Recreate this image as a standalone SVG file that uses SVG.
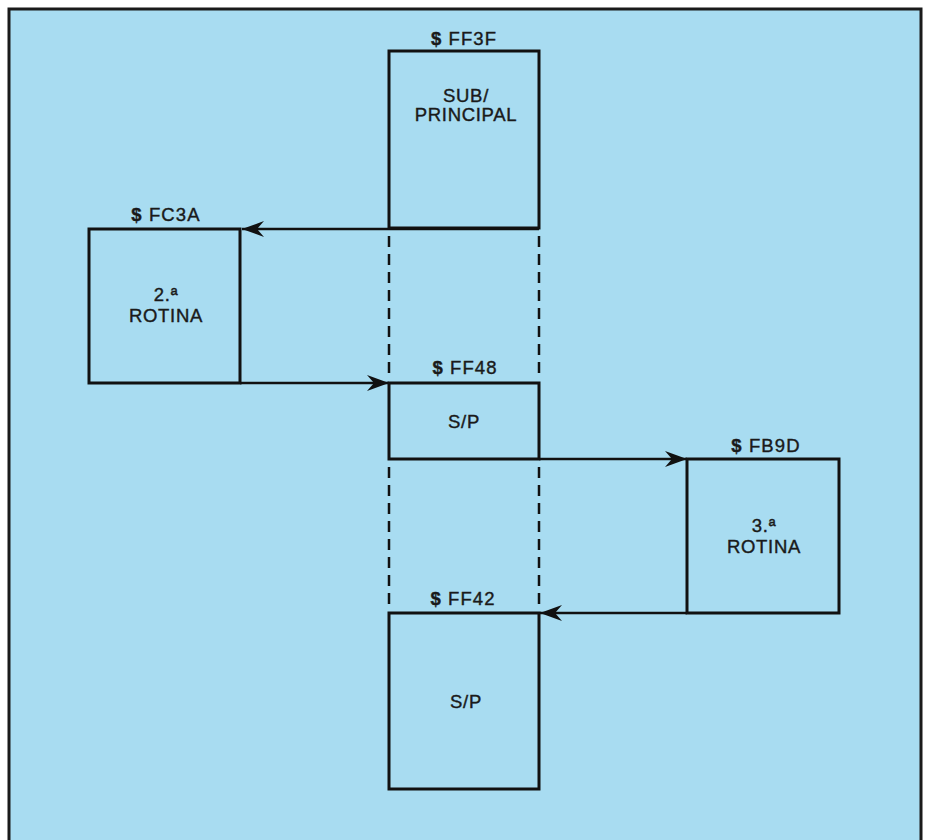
<svg xmlns="http://www.w3.org/2000/svg" width="926" height="840" viewBox="0 0 926 840">
<style>
.box{fill:none;stroke:#111;stroke-width:3}
.ln{fill:none;stroke:#111;stroke-width:2.5}
.dash{fill:none;stroke:#111;stroke-width:2.5;stroke-dasharray:11 7}
.lbl{font-family:"Liberation Sans",Arial,sans-serif;font-size:18.5px;fill:#1a1a1a;stroke:#1a1a1a;stroke-width:0.4;text-anchor:middle;letter-spacing:1.1px}
.dol{font-weight:bold}
.txt{font-family:"Liberation Sans",Arial,sans-serif;font-size:18.5px;fill:#1a1a1a;stroke:#1a1a1a;stroke-width:0.4;text-anchor:middle;letter-spacing:0.7px}
</style>
<defs>
<marker id="ah" viewBox="-22 -9 24 18" refX="0" refY="0" markerWidth="24" markerHeight="18" markerUnits="userSpaceOnUse" orient="auto">
<path d="M0,0 L-22,-8 L-15,0 L-22,8 Z" fill="#111"/>
</marker>
</defs>
<rect x="0" y="0" width="926" height="840" fill="#ffffff"/>
<rect x="9" y="9" width="912" height="840" fill="#a8dcf1" stroke="#1a1a1a" stroke-width="3"/>
<g id="connectors">
<path class="ln" d="M539,229 L242,229" marker-end="url(#ah)"/>
<path class="ln" d="M240,383 L389,383" marker-end="url(#ah)"/>
<path class="ln" d="M539,459 L687,459" marker-end="url(#ah)"/>
<path class="ln" d="M687,613 L540,613" marker-end="url(#ah)"/>
<path class="dash" d="M389,236 L389,380"/>
<path class="dash" d="M539,236 L539,380"/>
<path class="dash" d="M389,467 L389,610"/>
<path class="dash" d="M539,467 L539,610"/>
</g>
<g id="node-ff3f">
<rect class="box" x="389" y="51" width="150" height="177"/>
<text class="lbl" x="464" y="45"><tspan class="dol">$</tspan> FF3F</text>
<text class="txt" x="466" y="102">SUB/</text>
<text class="txt" x="466" y="121">PRINCIPAL</text>
</g>
<g id="node-fc3a">
<rect class="box" x="89" y="229" width="151" height="154"/>
<text class="lbl" x="166" y="221"><tspan class="dol">$</tspan> FC3A</text>
<text class="txt" x="166" y="301">2.ª</text>
<text class="txt" x="166" y="322">ROTINA</text>
</g>
<g id="node-ff48">
<rect class="box" x="389" y="383" width="150" height="76"/>
<text class="lbl" x="465" y="374"><tspan class="dol">$</tspan> FF48</text>
<text class="txt" x="464" y="428">S/P</text>
</g>
<g id="node-fb9d">
<rect class="box" x="687" y="459" width="152" height="154"/>
<text class="lbl" x="766" y="452"><tspan class="dol">$</tspan> FB9D</text>
<text class="txt" x="764" y="532">3.ª</text>
<text class="txt" x="764" y="553">ROTINA</text>
</g>
<g id="node-ff42">
<rect class="box" x="389" y="613" width="150" height="176"/>
<text class="lbl" x="463" y="605"><tspan class="dol">$</tspan> FF42</text>
<text class="txt" x="466" y="708">S/P</text>
</g>
</svg>
